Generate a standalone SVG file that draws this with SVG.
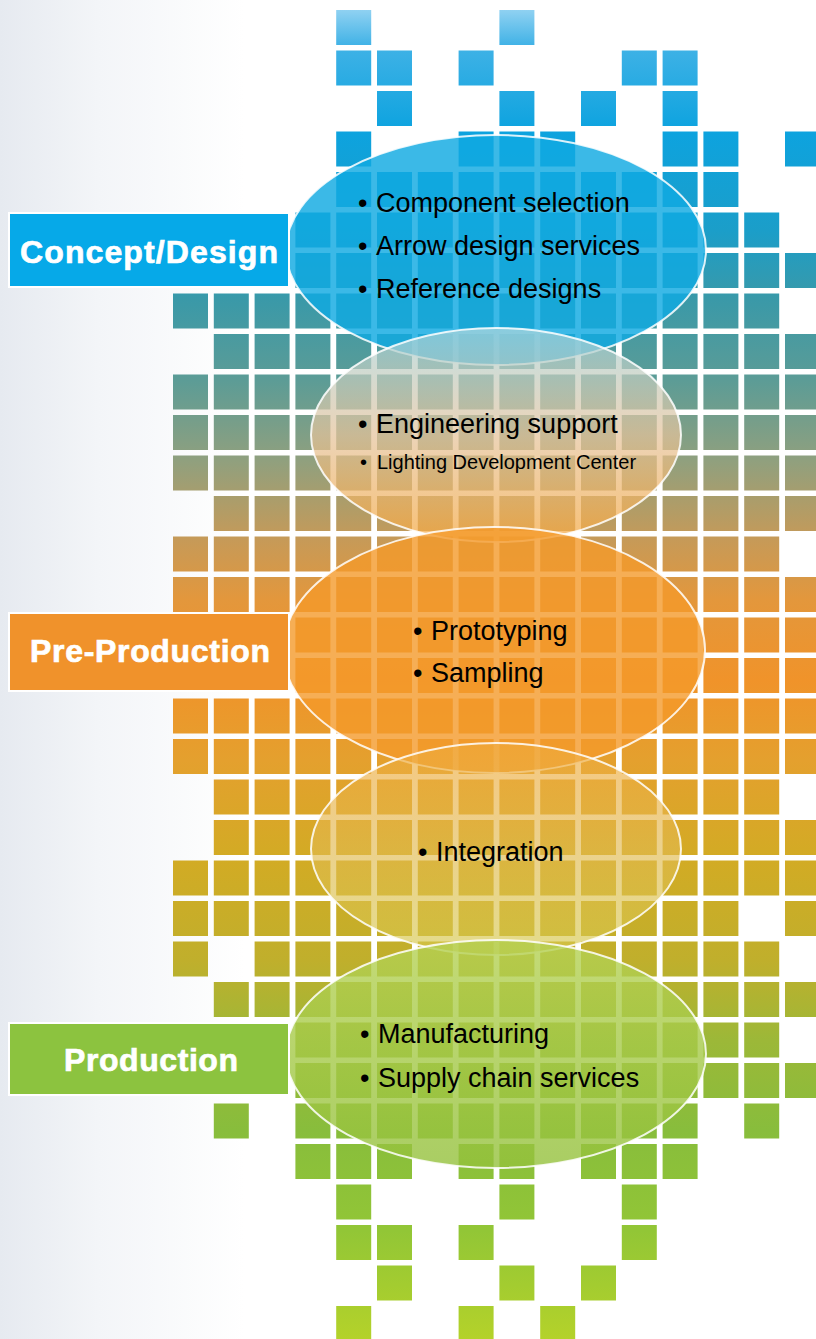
<svg xmlns="http://www.w3.org/2000/svg" width="816" height="1339" viewBox="0 0 816 1339">
<defs>
<linearGradient id="tiles" gradientUnits="userSpaceOnUse" x1="0" y1="0" x2="0" y2="1339">
<stop offset="0" stop-color="#a6daf5"/>
<stop offset="0.034" stop-color="#40b2e6"/>
<stop offset="0.097" stop-color="#0da3df"/>
<stop offset="0.172" stop-color="#1b9ec9"/>
<stop offset="0.224" stop-color="#3a99a8"/>
<stop offset="0.284" stop-color="#5c9c96"/>
<stop offset="0.344" stop-color="#90a07e"/>
<stop offset="0.403" stop-color="#c69a58"/>
<stop offset="0.448" stop-color="#e3973c"/>
<stop offset="0.508" stop-color="#f0932a"/>
<stop offset="0.568" stop-color="#e4a02e"/>
<stop offset="0.642" stop-color="#d2ab24"/>
<stop offset="0.717" stop-color="#c0af2c"/>
<stop offset="0.777" stop-color="#9cb838"/>
<stop offset="0.844" stop-color="#88bd3c"/>
<stop offset="0.919" stop-color="#92c636"/>
<stop offset="1" stop-color="#b4d22a"/>
</linearGradient>
<linearGradient id="bg" x1="0" y1="0" x2="1" y2="0">
<stop offset="0" stop-color="#e6eaf0"/>
<stop offset="0.12" stop-color="#f3f5f8"/>
<stop offset="0.3" stop-color="#ffffff"/>
</linearGradient>
<linearGradient id="e2g" x1="0" y1="0" x2="0" y2="1">
<stop offset="0" stop-color="#a8d4dc"/>
<stop offset="0.5" stop-color="#e5c39b"/>
<stop offset="1" stop-color="#f5a840"/>
</linearGradient>
<linearGradient id="e4g" x1="0" y1="0" x2="0" y2="1">
<stop offset="0" stop-color="#f0aa3c"/>
<stop offset="0.5" stop-color="#e1b94f"/>
<stop offset="1" stop-color="#d5c94b"/>
</linearGradient>
<linearGradient id="e5g" x1="0" y1="0" x2="0" y2="1">
<stop offset="0" stop-color="#b5d153"/>
<stop offset="1" stop-color="#94c13c"/>
</linearGradient>
</defs>
<style>
.tiles path { fill: url(#tiles); }
.oval { stroke: #ffffff; stroke-width: 2; stroke-opacity: 0.85; }
.lbl rect { stroke: #ffffff; stroke-width: 2; }
.lbl text { font-family: "Liberation Sans", Arial, sans-serif; font-weight: bold; font-size: 32px; fill: #ffffff; stroke: #ffffff; stroke-width: 0.7; text-anchor: middle; }
.item { font-family: "Liberation Sans", Arial, sans-serif; font-size: 27px; fill: #000000; }
.small { font-size: 20px; }
</style>
<rect x="0" y="0" width="816" height="1339" fill="url(#bg)"/>
<g class="tiles" id="tile-mosaic">
<path d="M336.2 10h35v35h-35zm163.2 0h35v35h-35z"/>
<path d="M336.2 50.5h35v35h-35zm40.8 0h35v35h-35zm81.6 0h35v35h-35zm163.2 0h35v35h-35zm40.8 0h35v35h-35z"/>
<path d="M377 91h35v35h-35zm122.4 0h35v35h-35zm81.6 0h35v35h-35zm81.6 0h35v35h-35z"/>
<path d="M336.2 131.5h35v35h-35zm122.4 0h35v35h-35zm40.8 0h35v35h-35zm40.8 0h35v35h-35zm122.4 0h35v35h-35zm40.8 0h35v35h-35zm81.6 0h35v35h-35z"/>
<path d="M336.2 172h35v35h-35zm40.8 0h35v35h-35zm40.8 0h35v35h-35zm40.8 0h35v35h-35zm40.8 0h35v35h-35zm40.8 0h35v35h-35zm40.8 0h35v35h-35zm40.8 0h35v35h-35zm40.8 0h35v35h-35zm40.8 0h35v35h-35z"/>
<path d="M295.4 212.5h35v35h-35zm40.8 0h35v35h-35zm40.8 0h35v35h-35zm40.8 0h35v35h-35zm40.8 0h35v35h-35zm40.8 0h35v35h-35zm40.8 0h35v35h-35zm40.8 0h35v35h-35zm40.8 0h35v35h-35zm40.8 0h35v35h-35zm40.8 0h35v35h-35zm40.8 0h35v35h-35z"/>
<path d="M295.4 253h35v35h-35zm40.8 0h35v35h-35zm40.8 0h35v35h-35zm40.8 0h35v35h-35zm40.8 0h35v35h-35zm40.8 0h35v35h-35zm40.8 0h35v35h-35zm40.8 0h35v35h-35zm40.8 0h35v35h-35zm40.8 0h35v35h-35zm40.8 0h35v35h-35zm40.8 0h35v35h-35zm40.8 0h35v35h-35z"/>
<path d="M173 293.5h35v35h-35zm40.8 0h35v35h-35zm40.8 0h35v35h-35zm40.8 0h35v35h-35zm40.8 0h35v35h-35zm40.8 0h35v35h-35zm40.8 0h35v35h-35zm40.8 0h35v35h-35zm40.8 0h35v35h-35zm40.8 0h35v35h-35zm40.8 0h35v35h-35zm40.8 0h35v35h-35zm40.8 0h35v35h-35zm40.8 0h35v35h-35zm40.8 0h35v35h-35z"/>
<path d="M213.8 334h35v35h-35zm40.8 0h35v35h-35zm40.8 0h35v35h-35zm40.8 0h35v35h-35zm40.8 0h35v35h-35zm40.8 0h35v35h-35zm40.8 0h35v35h-35zm40.8 0h35v35h-35zm40.8 0h35v35h-35zm40.8 0h35v35h-35zm40.8 0h35v35h-35zm40.8 0h35v35h-35zm40.8 0h35v35h-35zm40.8 0h35v35h-35zm40.8 0h35v35h-35z"/>
<path d="M173 374.5h35v35h-35zm40.8 0h35v35h-35zm40.8 0h35v35h-35zm40.8 0h35v35h-35zm40.8 0h35v35h-35zm40.8 0h35v35h-35zm40.8 0h35v35h-35zm40.8 0h35v35h-35zm40.8 0h35v35h-35zm40.8 0h35v35h-35zm40.8 0h35v35h-35zm40.8 0h35v35h-35zm40.8 0h35v35h-35zm40.8 0h35v35h-35zm40.8 0h35v35h-35zm40.8 0h35v35h-35z"/>
<path d="M173 415h35v35h-35zm40.8 0h35v35h-35zm40.8 0h35v35h-35zm40.8 0h35v35h-35zm40.8 0h35v35h-35zm40.8 0h35v35h-35zm40.8 0h35v35h-35zm40.8 0h35v35h-35zm40.8 0h35v35h-35zm40.8 0h35v35h-35zm40.8 0h35v35h-35zm40.8 0h35v35h-35zm40.8 0h35v35h-35zm40.8 0h35v35h-35zm40.8 0h35v35h-35zm40.8 0h35v35h-35z"/>
<path d="M173 455.5h35v35h-35zm40.8 0h35v35h-35zm40.8 0h35v35h-35zm40.8 0h35v35h-35zm40.8 0h35v35h-35zm40.8 0h35v35h-35zm40.8 0h35v35h-35zm40.8 0h35v35h-35zm40.8 0h35v35h-35zm40.8 0h35v35h-35zm40.8 0h35v35h-35zm40.8 0h35v35h-35zm40.8 0h35v35h-35zm40.8 0h35v35h-35zm40.8 0h35v35h-35zm40.8 0h35v35h-35z"/>
<path d="M213.8 496h35v35h-35zm40.8 0h35v35h-35zm40.8 0h35v35h-35zm40.8 0h35v35h-35zm40.8 0h35v35h-35zm40.8 0h35v35h-35zm40.8 0h35v35h-35zm40.8 0h35v35h-35zm40.8 0h35v35h-35zm40.8 0h35v35h-35zm40.8 0h35v35h-35zm40.8 0h35v35h-35zm40.8 0h35v35h-35zm40.8 0h35v35h-35zm40.8 0h35v35h-35z"/>
<path d="M173 536.5h35v35h-35zm40.8 0h35v35h-35zm40.8 0h35v35h-35zm40.8 0h35v35h-35zm40.8 0h35v35h-35zm40.8 0h35v35h-35zm40.8 0h35v35h-35zm40.8 0h35v35h-35zm40.8 0h35v35h-35zm40.8 0h35v35h-35zm40.8 0h35v35h-35zm40.8 0h35v35h-35zm40.8 0h35v35h-35zm40.8 0h35v35h-35zm40.8 0h35v35h-35z"/>
<path d="M173 577h35v35h-35zm40.8 0h35v35h-35zm40.8 0h35v35h-35zm40.8 0h35v35h-35zm40.8 0h35v35h-35zm40.8 0h35v35h-35zm40.8 0h35v35h-35zm40.8 0h35v35h-35zm40.8 0h35v35h-35zm40.8 0h35v35h-35zm40.8 0h35v35h-35zm40.8 0h35v35h-35zm40.8 0h35v35h-35zm40.8 0h35v35h-35zm40.8 0h35v35h-35zm40.8 0h35v35h-35z"/>
<path d="M295.4 617.5h35v35h-35zm40.8 0h35v35h-35zm40.8 0h35v35h-35zm40.8 0h35v35h-35zm40.8 0h35v35h-35zm40.8 0h35v35h-35zm40.8 0h35v35h-35zm40.8 0h35v35h-35zm40.8 0h35v35h-35zm40.8 0h35v35h-35zm40.8 0h35v35h-35zm40.8 0h35v35h-35zm40.8 0h35v35h-35z"/>
<path d="M295.4 658h35v35h-35zm40.8 0h35v35h-35zm40.8 0h35v35h-35zm40.8 0h35v35h-35zm40.8 0h35v35h-35zm40.8 0h35v35h-35zm40.8 0h35v35h-35zm40.8 0h35v35h-35zm40.8 0h35v35h-35zm40.8 0h35v35h-35zm40.8 0h35v35h-35zm40.8 0h35v35h-35zm40.8 0h35v35h-35z"/>
<path d="M173 698.5h35v35h-35zm40.8 0h35v35h-35zm40.8 0h35v35h-35zm40.8 0h35v35h-35zm40.8 0h35v35h-35zm40.8 0h35v35h-35zm40.8 0h35v35h-35zm40.8 0h35v35h-35zm40.8 0h35v35h-35zm40.8 0h35v35h-35zm40.8 0h35v35h-35zm40.8 0h35v35h-35zm40.8 0h35v35h-35zm40.8 0h35v35h-35zm40.8 0h35v35h-35zm40.8 0h35v35h-35z"/>
<path d="M173 739h35v35h-35zm40.8 0h35v35h-35zm40.8 0h35v35h-35zm40.8 0h35v35h-35zm40.8 0h35v35h-35zm40.8 0h35v35h-35zm40.8 0h35v35h-35zm40.8 0h35v35h-35zm40.8 0h35v35h-35zm40.8 0h35v35h-35zm40.8 0h35v35h-35zm40.8 0h35v35h-35zm40.8 0h35v35h-35zm40.8 0h35v35h-35zm40.8 0h35v35h-35zm40.8 0h35v35h-35z"/>
<path d="M213.8 779.5h35v35h-35zm40.8 0h35v35h-35zm40.8 0h35v35h-35zm40.8 0h35v35h-35zm40.8 0h35v35h-35zm40.8 0h35v35h-35zm40.8 0h35v35h-35zm40.8 0h35v35h-35zm40.8 0h35v35h-35zm40.8 0h35v35h-35zm40.8 0h35v35h-35zm40.8 0h35v35h-35zm40.8 0h35v35h-35zm40.8 0h35v35h-35z"/>
<path d="M213.8 820h35v35h-35zm40.8 0h35v35h-35zm40.8 0h35v35h-35zm40.8 0h35v35h-35zm40.8 0h35v35h-35zm40.8 0h35v35h-35zm40.8 0h35v35h-35zm40.8 0h35v35h-35zm40.8 0h35v35h-35zm40.8 0h35v35h-35zm40.8 0h35v35h-35zm40.8 0h35v35h-35zm40.8 0h35v35h-35zm40.8 0h35v35h-35zm40.8 0h35v35h-35z"/>
<path d="M173 860.5h35v35h-35zm40.8 0h35v35h-35zm40.8 0h35v35h-35zm40.8 0h35v35h-35zm40.8 0h35v35h-35zm40.8 0h35v35h-35zm40.8 0h35v35h-35zm40.8 0h35v35h-35zm40.8 0h35v35h-35zm40.8 0h35v35h-35zm40.8 0h35v35h-35zm40.8 0h35v35h-35zm40.8 0h35v35h-35zm40.8 0h35v35h-35zm40.8 0h35v35h-35zm40.8 0h35v35h-35z"/>
<path d="M173 901h35v35h-35zm40.8 0h35v35h-35zm40.8 0h35v35h-35zm40.8 0h35v35h-35zm40.8 0h35v35h-35zm40.8 0h35v35h-35zm40.8 0h35v35h-35zm40.8 0h35v35h-35zm40.8 0h35v35h-35zm40.8 0h35v35h-35zm40.8 0h35v35h-35zm40.8 0h35v35h-35zm40.8 0h35v35h-35zm40.8 0h35v35h-35zm81.6 0h35v35h-35z"/>
<path d="M173 941.5h35v35h-35zm81.6 0h35v35h-35zm40.8 0h35v35h-35zm40.8 0h35v35h-35zm40.8 0h35v35h-35zm40.8 0h35v35h-35zm40.8 0h35v35h-35zm40.8 0h35v35h-35zm40.8 0h35v35h-35zm40.8 0h35v35h-35zm40.8 0h35v35h-35zm40.8 0h35v35h-35zm40.8 0h35v35h-35zm40.8 0h35v35h-35z"/>
<path d="M213.8 982h35v35h-35zm40.8 0h35v35h-35zm40.8 0h35v35h-35zm40.8 0h35v35h-35zm40.8 0h35v35h-35zm40.8 0h35v35h-35zm40.8 0h35v35h-35zm40.8 0h35v35h-35zm40.8 0h35v35h-35zm40.8 0h35v35h-35zm40.8 0h35v35h-35zm40.8 0h35v35h-35zm40.8 0h35v35h-35zm40.8 0h35v35h-35zm40.8 0h35v35h-35z"/>
<path d="M295.4 1022.5h35v35h-35zm40.8 0h35v35h-35zm40.8 0h35v35h-35zm40.8 0h35v35h-35zm40.8 0h35v35h-35zm40.8 0h35v35h-35zm40.8 0h35v35h-35zm40.8 0h35v35h-35zm40.8 0h35v35h-35zm40.8 0h35v35h-35zm40.8 0h35v35h-35zm40.8 0h35v35h-35z"/>
<path d="M295.4 1063h35v35h-35zm40.8 0h35v35h-35zm40.8 0h35v35h-35zm40.8 0h35v35h-35zm40.8 0h35v35h-35zm40.8 0h35v35h-35zm40.8 0h35v35h-35zm40.8 0h35v35h-35zm40.8 0h35v35h-35zm40.8 0h35v35h-35zm40.8 0h35v35h-35zm40.8 0h35v35h-35zm40.8 0h35v35h-35z"/>
<path d="M213.8 1103.5h35v35h-35zm81.6 0h35v35h-35zm40.8 0h35v35h-35zm40.8 0h35v35h-35zm40.8 0h35v35h-35zm40.8 0h35v35h-35zm40.8 0h35v35h-35zm40.8 0h35v35h-35zm40.8 0h35v35h-35zm40.8 0h35v35h-35zm40.8 0h35v35h-35zm81.6 0h35v35h-35z"/>
<path d="M295.4 1144h35v35h-35zm40.8 0h35v35h-35zm40.8 0h35v35h-35zm81.6 0h35v35h-35zm40.8 0h35v35h-35zm81.6 0h35v35h-35zm40.8 0h35v35h-35zm40.8 0h35v35h-35z"/>
<path d="M336.2 1184.5h35v35h-35zm163.2 0h35v35h-35zm122.4 0h35v35h-35z"/>
<path d="M336.2 1225h35v35h-35zm40.8 0h35v35h-35zm81.6 0h35v35h-35zm163.2 0h35v35h-35z"/>
<path d="M377 1265.5h35v35h-35zm122.4 0h35v35h-35zm81.6 0h35v35h-35z"/>
<path d="M336.2 1306h35v35h-35zm122.4 0h35v35h-35zm81.6 0h35v35h-35z"/>
</g>
<g id="connectors"></g>
<g id="stage-design">
<ellipse class="oval" cx="496" cy="250" rx="210" ry="115" fill="#10aae2" fill-opacity="0.82"/>
<text class="item" x="358" y="212">•<tspan x="376">Component selection</tspan></text>
<text class="item" x="358" y="255">•<tspan x="376">Arrow design services</tspan></text>
<text class="item" x="358" y="298">•<tspan x="376">Reference designs</tspan></text>
</g>
<g id="stage-engineering">
<ellipse class="oval" cx="496" cy="435" rx="185" ry="107" fill="url(#e2g)" fill-opacity="0.72"/>
<text class="item" x="358" y="433">•<tspan x="376">Engineering support</tspan></text>
<text class="item small" x="360" y="469">•<tspan x="377">Lighting Development Center</tspan></text>
</g>
<g id="stage-preproduction">
<ellipse class="oval" cx="494" cy="650" rx="211" ry="123" fill="#f49a2a" fill-opacity="0.8"/>
<text class="item" x="413" y="640">•<tspan x="431">Prototyping</tspan></text>
<text class="item" x="413" y="682">•<tspan x="431">Sampling</tspan></text>
</g>
<g id="stage-integration">
<ellipse class="oval" cx="496" cy="849" rx="185" ry="106" fill="url(#e4g)" fill-opacity="0.65"/>
<text class="item" x="418" y="861">•<tspan x="436">Integration</tspan></text>
</g>
<g id="stage-production">
<ellipse class="oval" cx="496" cy="1054" rx="210" ry="114" fill="url(#e5g)" fill-opacity="0.8"/>
<text class="item" x="360" y="1043">•<tspan x="378">Manufacturing</tspan></text>
<text class="item" x="360" y="1087">•<tspan x="378">Supply chain services</tspan></text>
</g>
<g id="label-concept" class="lbl">
<rect x="9" y="213" width="280" height="74" fill="#06a9e8"/>
<text x="149" y="263" textLength="258" lengthAdjust="spacing">Concept/Design</text>
</g>
<g id="label-preproduction" class="lbl">
<rect x="9" y="613" width="280" height="78" fill="#f0922b"/>
<text x="150" y="662" textLength="240" lengthAdjust="spacing">Pre-Production</text>
</g>
<g id="label-production" class="lbl">
<rect x="9" y="1023" width="280" height="72" fill="#8cc33f"/>
<text x="151" y="1071" textLength="174" lengthAdjust="spacing">Production</text>
</g>
</svg>
